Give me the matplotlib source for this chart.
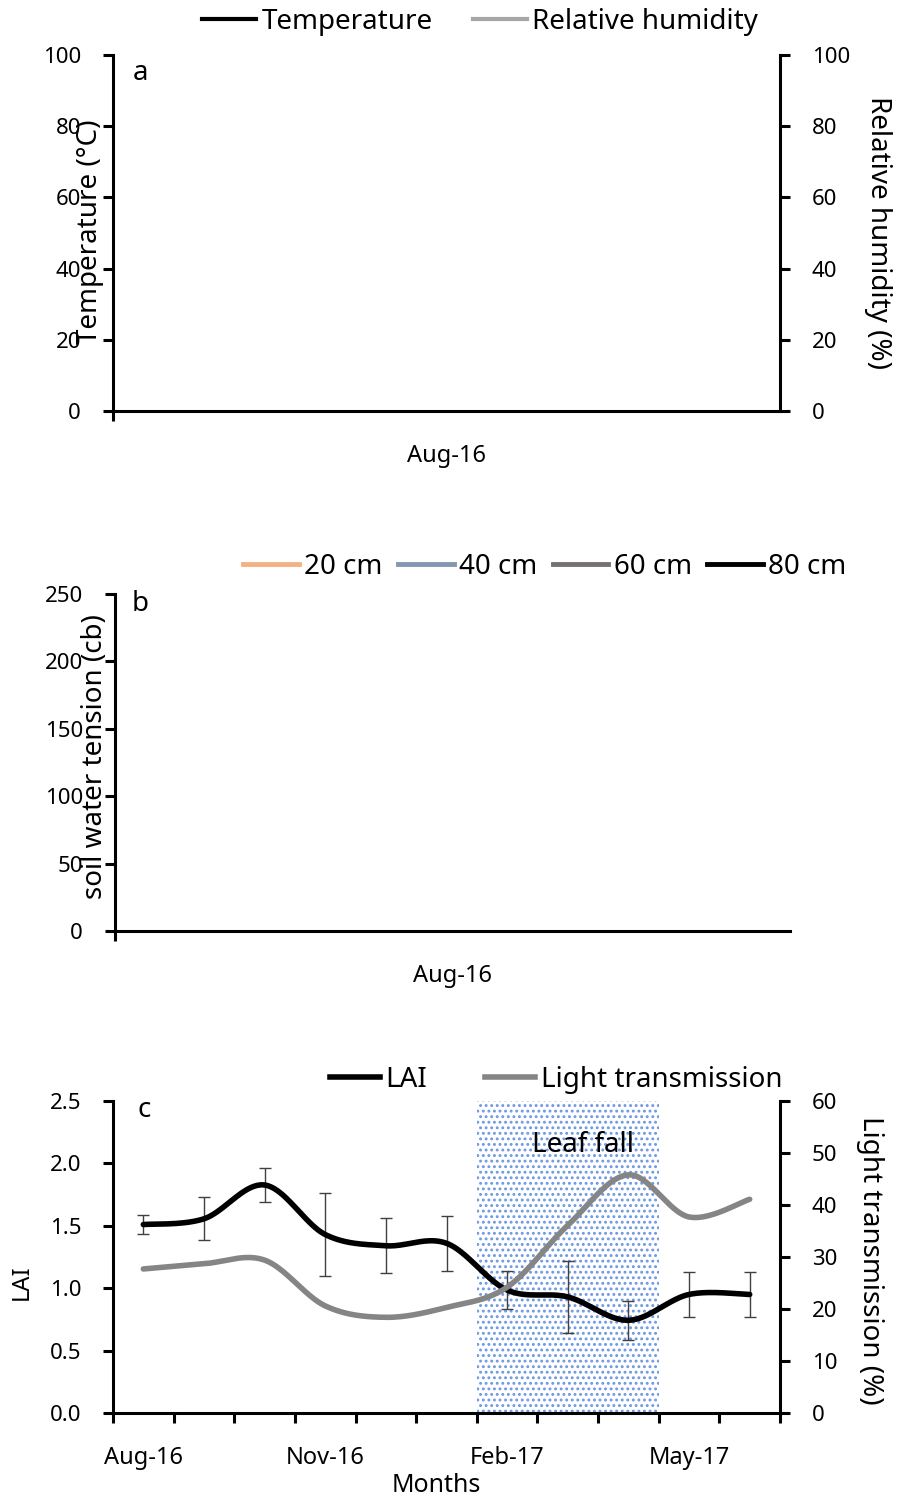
import matplotlib
matplotlib.use("Agg")
import matplotlib.pyplot as plt
import numpy as np
from matplotlib.lines import Line2D

plt.rcParams['font.family'] = ['Noto Sans', 'DejaVu Sans']
plt.rcParams['hatch.linewidth'] = 1.3

W, H = 898, 1499

# panel a / b: legend entries only (no data drawn in the source figure)
a_series = ["Temperature", "Relative humidity"]
a_colors = ["black", "#a6a6a6"]
b_series = ["20 cm", "40 cm", "60 cm", "80 cm"]
b_colors = ["#f4b183", "#8497b0", "#767171", "black"]

# panel c data
months = ["Aug-16", "Sep-16", "Oct-16", "Nov-16", "Dec-16", "Jan-17",
          "Feb-17", "Mar-17", "Apr-17", "May-17", "Jun-17"]
lai = [1.51, 1.556, 1.827, 1.43, 1.34, 1.36, 0.985, 0.93, 0.743, 0.95, 0.95]
lai_err = [0.079, 0.172, 0.133, 0.33, 0.22, 0.22, 0.152, 0.285, 0.157, 0.183, 0.183]
light = [27.7, 28.7, 29.4, 20.6, 18.4, 20.3, 24.2, 36.1, 45.8, 37.7, 41.1]
leaf_fall = ("Feb-17", "Apr-17")


def px(x, y):
    return x / W, 1 - y / H


def smooth(y, n=40):
    # excel-style smoothed line (bezier through the points)
    y = np.asarray(y, float)
    p = np.column_stack([np.arange(len(y)), y])
    pts = np.vstack([p[0], p, p[-1]])
    t = np.linspace(0, 1, n)[:, None]
    out = []
    for i in range(len(p) - 1):
        p0, p1, p2, p3 = pts[i], pts[i + 1], pts[i + 2], pts[i + 3]
        c1 = p1 + (p2 - p0) / 6
        c2 = p2 - (p3 - p1) / 6
        out.append((1 - t) ** 3 * p1 + 3 * (1 - t) ** 2 * t * c1
                   + 3 * (1 - t) * t ** 2 * c2 + t ** 3 * p2)
    s = np.vstack(out)
    return s[:, 0], s[:, 1]


def style(ax, left=True):
    for s in ["top", "right", "left", "bottom"]:
        ax.spines[s].set_visible(False)
    ax.spines["bottom"].set_visible(True)
    ax.spines["bottom"].set_linewidth(2.2)
    if left:
        ax.spines["left"].set_visible(True)
        ax.spines["left"].set_linewidth(2.2)
    ax.tick_params(axis="y", which="major", direction="out", length=7,
                   width=2.2, labelsize=16, pad=16)
    ax.tick_params(axis="x", which="major", direction="out", length=7,
                   width=2.2, labelsize=17, pad=16)
    ax.tick_params(axis="x", which="minor", length=0, labelsize=17, pad=24)


def style_right(ax2):
    for s in ["top", "left", "bottom"]:
        ax2.spines[s].set_visible(False)
    ax2.spines["right"].set_linewidth(2.2)
    ax2.tick_params(axis="y", direction="out", length=7, width=2.2,
                    labelsize=16, pad=16)


fig = plt.figure(figsize=(W / 100, H / 100), dpi=100)

# ---- panel a
axa = fig.add_axes([113 / W, 1 - 411 / H, 667 / W, 356 / H])
style(axa)
axa.set_xlim(0, 1)
axa.set_ylim(0, 100)
axa.set_yticks(range(0, 101, 20))
axa.set_xticks([0])
axa.set_xticklabels([""])
axa.set_xticks([0.5], minor=True)
axa.set_xticklabels(["Aug-16"], minor=True)
axa2 = axa.twinx()
axa2.set_ylim(0, 100)
axa2.set_yticks(range(0, 101, 20))
style_right(axa2)
fig.text(*px(140, 73), "a", fontsize=20, ha="center", va="center")
fig.text(*px(90, 232), "Temperature (°C)", fontsize=20, rotation=90,
         ha="center", va="center")
fig.text(*px(878, 232), "Relative humidity (%)", fontsize=20, rotation=270,
         ha="center", va="center")
fig.legend([Line2D([], [], color=c, lw=3) for c in a_colors], a_series,
           loc="center", bbox_to_anchor=px(480, 22), ncol=2, frameon=False,
           fontsize=20, handlelength=1.95, handletextpad=0.2,
           columnspacing=1.45, borderpad=0)

# ---- panel b
axb = fig.add_axes([115 / W, 1 - 931 / H, 675 / W, 337 / H])
style(axb)
axb.set_xlim(0, 1)
axb.set_ylim(0, 250)
axb.set_yticks(range(0, 251, 50))
axb.set_xticks([0])
axb.set_xticklabels([""])
axb.set_xticks([0.5], minor=True)
axb.set_xticklabels(["Aug-16"], minor=True)
fig.text(*px(140, 604), "b", fontsize=20, ha="center", va="center")
fig.text(*px(95, 757), "soil water tension (cb)", fontsize=20, rotation=90,
         ha="center", va="center")
fig.legend([Line2D([], [], color=c, lw=3.5) for c in b_colors], b_series,
           loc="center", bbox_to_anchor=px(545, 567), ncol=4, frameon=False,
           fontsize=20, handlelength=2.0, handletextpad=0.2,
           columnspacing=0.55, borderpad=0)

# ---- panel c
axc = fig.add_axes([113 / W, 1 - 1413 / H, 667 / W, 312 / H])
style(axc)
x = np.arange(len(months))
axc.set_xlim(-0.5, len(months) - 0.5)
axc.set_ylim(0, 2.5)
axc.set_yticks(np.arange(0, 2.51, 0.5))
axc.set_yticklabels([f"{v:.1f}" for v in np.arange(0, 2.51, 0.5)])
axc.set_xticks(np.arange(-0.5, len(months), 1))
axc.set_xticklabels([""] * (len(months) + 1))
lab_idx = [0, 3, 6, 9]
axc.set_xticks(lab_idx, minor=True)
axc.set_xticklabels([months[i] for i in lab_idx], minor=True)

i0, i1 = months.index(leaf_fall[0]), months.index(leaf_fall[1])
axc.axvspan(i0 - 0.5, i1 + 0.5, facecolor="none", edgecolor="#6b98e2",
            hatch="...", linewidth=0, zorder=0)
axc.text(0.705, 0.86, "Leaf fall", transform=axc.transAxes, fontsize=20,
         ha="center", va="center")

axc.errorbar(x, lai, yerr=lai_err, fmt="none", ecolor="#404040",
             elinewidth=1, capsize=4.5, capthick=1, zorder=2)
sx, sy = smooth(lai)
axc.plot(sx, sy, color="black", lw=4, zorder=3, solid_capstyle="round")

axc2 = axc.twinx()
axc2.set_ylim(0, 60)
axc2.set_yticks(range(0, 61, 10))
style_right(axc2)
lx, ly = smooth(light)
axc2.plot(lx, ly, color="#858585", lw=4, zorder=3, solid_capstyle="round")

fig.text(*px(144, 1110), "c", fontsize=20, ha="center", va="center")
fig.text(*px(22, 1282), "LAI", fontsize=17, rotation=90,
         ha="center", va="center")
fig.text(*px(870, 1260), "Light transmission (%)", fontsize=20, rotation=270,
         ha="center", va="center")
fig.text(*px(436, 1485), "Months", fontsize=18, ha="center", va="center")
fig.legend([Line2D([], [], color="black", lw=4),
            Line2D([], [], color="#858585", lw=4)],
           ["LAI", "Light transmission"],
           loc="center", bbox_to_anchor=px(556, 1080), ncol=2, frameon=False,
           fontsize=20, handlelength=1.8, handletextpad=0.2,
           columnspacing=2.1, borderpad=0)

fig.savefig("out.png", dpi=100)
